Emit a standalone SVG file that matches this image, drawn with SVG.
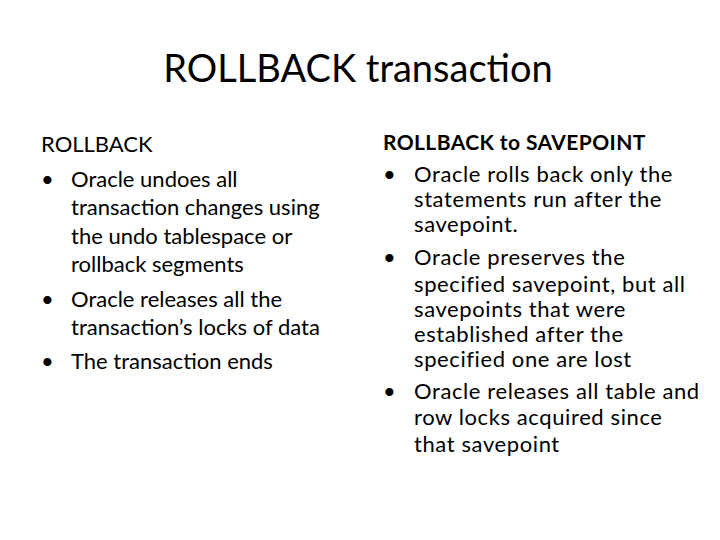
<svg xmlns="http://www.w3.org/2000/svg" width="720" height="540" viewBox="0 0 720 540">
<style>
text{font-family:Lato,"Open Sans","Liberation Sans",sans-serif;fill:#000}
.t{font-size:38px}
.b{font-size:22px}
.h{font-size:21px;font-weight:bold;letter-spacing:0.4px}
#right .b{letter-spacing:0.6px}
</style>
<rect width="720" height="540" fill="#fff"/>
<text class="t" x="358" y="82" text-anchor="middle">ROLLBACK transaction</text>
<g id="left">
<text class="b" x="41" y="152">ROLLBACK</text>
<text class="b" x="41" y="187">•</text>
<text class="b" x="71" y="187">Oracle undoes all</text>
<text class="b" x="71" y="215">transaction changes using</text>
<text class="b" x="71" y="244">the undo tablespace or</text>
<text class="b" x="71" y="272">rollback segments</text>
<text class="b" x="41" y="307">•</text>
<text class="b" x="71" y="307">Oracle releases all the</text>
<text class="b" x="71" y="335">transaction’s locks of data</text>
<text class="b" x="41" y="369">•</text>
<text class="b" x="71" y="369">The transaction ends</text>
</g>
<g id="right">
<text class="h" x="383" y="150">ROLLBACK to SAVEPOINT</text>
<text class="b" x="383" y="182">•</text>
<text class="b" x="414" y="182">Oracle rolls back only the</text>
<text class="b" x="414" y="207">statements run after the</text>
<text class="b" x="414" y="232">savepoint.</text>
<text class="b" x="383" y="265">•</text>
<text class="b" x="414" y="265">Oracle preserves the</text>
<text class="b" x="414" y="292">specified savepoint, but all</text>
<text class="b" x="414" y="317">savepoints that were</text>
<text class="b" x="414" y="342">established after the</text>
<text class="b" x="414" y="367">specified one are lost</text>
<text class="b" x="383" y="399">•</text>
<text class="b" x="414" y="399">Oracle releases all table and</text>
<text class="b" x="414" y="425">row locks acquired since</text>
<text class="b" x="414" y="452">that savepoint</text>
</g>
</svg>
